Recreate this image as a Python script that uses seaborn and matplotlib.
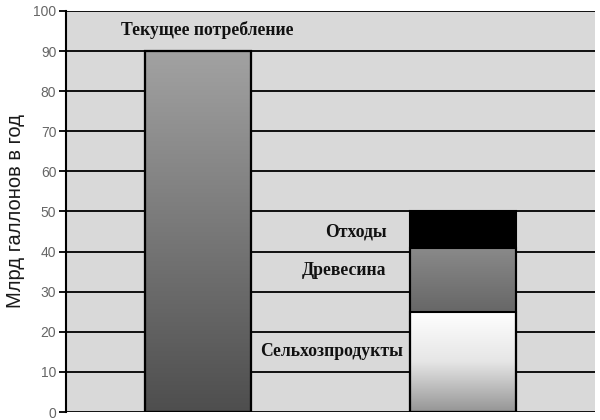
import seaborn as sns
import matplotlib.pyplot as plt
import numpy as np
import pandas as pd
from matplotlib.colors import LinearSegmentedColormap

# data
bars = ["Текущее", "Биотопливо"]
current = [90, 0]
agri = [0, 25]
wood = [0, 16]
waste = [0, 9]

sns.set_theme(style="white")
plt.rcParams['font.family'] = ['Liberation Sans', 'DejaVu Sans']

fig = plt.figure(figsize=(6, 4.2), dpi=100)
ax = fig.add_axes([0.11, 0.019, 0.882, 0.955])
ax.set_facecolor("#d9d9d9")

df = pd.DataFrame({"bar": bars, "current": current, "agri": agri,
                   "wood": wood, "waste": waste})
df["top"] = df["current"] + df["agri"] + df["wood"] + df["waste"]
df["mid"] = df["current"] + df["agri"] + df["wood"]
df["low"] = df["current"] + df["agri"]

# draw from tallest down so segments stack
sns.barplot(data=df, x="bar", y="top", ax=ax, width=0.4, color="k")
n1 = len(ax.patches)
sns.barplot(data=df, x="bar", y="mid", ax=ax, width=0.4, color="k")
n2 = len(ax.patches)
sns.barplot(data=df, x="bar", y="low", ax=ax, width=0.4, color="k")

grads = {
    # (patch index, colours from bottom to top)
    0: ["#4e4e4e", "#a2a2a2"],   # current use
    1: ["#000000", "#000000"],   # waste
    n1 + 1: ["#303030", "#8a8a8a"],   # wood
    n2 + 1: ["#959595", "#e6e6e6", "#ffffff"],   # agri
}
for i, p in enumerate(ax.patches):
    if p.get_height() <= 0:
        continue
    x0, w = p.get_x(), p.get_width()
    y0, h = p.get_y(), p.get_height()
    if i in grads:
        cm = LinearSegmentedColormap.from_list("g", grads[i])
        g = np.linspace(0, 1, 256).reshape(-1, 1)
        im = ax.imshow(g, cmap=cm, origin="lower", aspect="auto",
                       extent=[x0, x0 + w, y0, y0 + h], zorder=2)
        im.set_clip_path(p)
    p.set_facecolor("none")
    p.set_edgecolor("black")
    p.set_linewidth(1.5)
    p.set_zorder(3)

ax.set_xlim(-0.5, 1.5)
ax.set_ylim(0, 100)
ax.set_yticks(range(0, 101, 10))
ax.yaxis.grid(True, color="black", linewidth=1.3)
ax.set_axisbelow(True)
ax.set_xticks([])
ax.set_xlabel("")
ax.set_ylabel("Млрд галлонов в год", fontsize=14.5, color="#1a1a1a", labelpad=6)
ax.tick_params(axis="y", labelsize=10, labelcolor="#666666", left=True,
               length=5, width=1.3, color="black", pad=2)
for s in ["top", "right", "bottom"]:
    ax.spines[s].set_visible(False)
ax.spines["left"].set_color("black")
ax.spines["left"].set_linewidth(1.5)

lab = dict(family=['Liberation Serif', 'DejaVu Serif'], fontweight="bold",
           fontsize=12.7, color="#111111")
ax.text(0.034, 95.3, "Текущее потребление", ha="center", va="center", **lab)
ax.text(0.712, 44.8, "Отходы", ha="right", va="center", **lab)
ax.text(0.712, 35.3, "Древесина", ha="right", va="center", **lab)
ax.text(0.772, 15, "Сельхозпродукты", ha="right", va="center", **lab)

fig.savefig("out.png", dpi=100)
